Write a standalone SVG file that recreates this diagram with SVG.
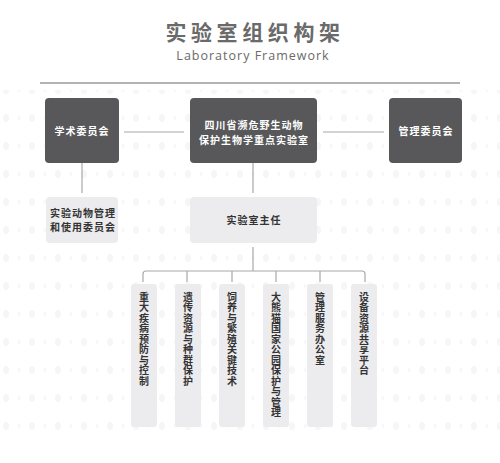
<svg xmlns="http://www.w3.org/2000/svg" width="500" height="463" viewBox="0 0 500 463">
<defs>
<style>
.title{font-family:"Noto Sans CJK SC","Noto Sans",sans-serif;font-weight:700;font-size:21px;fill:#6a6a6a;letter-spacing:4.6px}
.sub{font-family:"Open Sans","Noto Sans",sans-serif;font-size:12.5px;fill:#6a6a6a;letter-spacing:1px}
.dark{fill:#58585a}
.light{fill:#ececee}
.wt{font-family:"Noto Sans CJK SC",sans-serif;font-weight:700;font-size:10px;fill:#ffffff;letter-spacing:1px}
.bt{font-family:"Noto Sans CJK SC",sans-serif;font-weight:700;font-size:10px;fill:#333333;letter-spacing:1px}
.vt{font-family:"Noto Sans CJK SC",sans-serif;font-weight:700;font-size:10px;fill:#333333;writing-mode:vertical-rl;text-orientation:upright;letter-spacing:0.5px}
.ln{stroke:#a8a8a8;stroke-width:1.2;fill:none}
</style>
<pattern id="dots" x="0" y="0" width="26" height="28" patternUnits="userSpaceOnUse">
<ellipse cx="6" cy="6" rx="3" ry="4" fill="#f6f6f6"/>
<ellipse cx="19" cy="6" rx="1.5" ry="2" fill="#f7f7f7"/>
</pattern>
</defs>
<rect width="500" height="463" fill="#ffffff"/>
<rect x="0" y="90" width="500" height="360" fill="url(#dots)"/>

<g id="title">
<text class="title" x="255" y="39.5" text-anchor="middle">实验室组织构架</text>
<text class="sub" x="253" y="59.5" text-anchor="middle">Laboratory Framework</text>
<line x1="40" y1="83" x2="460" y2="83" stroke="#9a9a9a" stroke-width="1.5"/>
</g>

<g id="connectors">
<line class="ln" x1="124" y1="132" x2="184" y2="132"/>
<line class="ln" x1="323" y1="132" x2="384" y2="132"/>
<line class="ln" x1="82" y1="163" x2="82" y2="193"/>
<line class="ln" x1="253" y1="163" x2="253" y2="193"/>
<line class="ln" x1="253" y1="247" x2="253" y2="271"/>
<path class="ln" d="M143 282 V274 Q143 271 146 271 H362 Q365 271 365 274 V282"/>
<line class="ln" x1="187" y1="271" x2="187" y2="282"/>
<line class="ln" x1="232" y1="271" x2="232" y2="282"/>
<line class="ln" x1="276" y1="271" x2="276" y2="282"/>
<line class="ln" x1="320" y1="271" x2="320" y2="282"/>
</g>

<g id="academic">
<rect class="dark" x="45" y="98" width="74" height="65" rx="4"/>
<text class="wt" x="82" y="135" text-anchor="middle">学术委员会</text>
</g>
<g id="lab">
<rect class="dark" x="190" y="98" width="127" height="65" rx="4"/>
<text class="wt" x="254" y="129" text-anchor="middle">四川省濒危野生动物</text>
<text class="wt" x="254" y="144" text-anchor="middle">保护生物学重点实验室</text>
</g>
<g id="management">
<rect class="dark" x="389" y="98" width="73" height="65" rx="4"/>
<text class="wt" x="426" y="135" text-anchor="middle">管理委员会</text>
</g>
<g id="animal">
<rect class="light" x="46" y="197" width="72" height="46" rx="4"/>
<text class="bt" x="83" y="217" text-anchor="middle">实验动物管理</text>
<text class="bt" x="83" y="231" text-anchor="middle">和使用委员会</text>
</g>
<g id="director">
<rect class="light" x="190" y="197" width="127" height="46" rx="4"/>
<text class="bt" x="254" y="224" text-anchor="middle">实验室主任</text>
</g>

<g id="c1">
<rect class="light" x="131" y="284" width="26" height="143" rx="3"/>
<text class="vt" x="144" y="292">重大疾病预防与控制</text>
</g>
<g id="c2">
<rect class="light" x="175" y="284" width="26" height="143" rx="3"/>
<text class="vt" x="188" y="292">遗传资源与种群保护</text>
</g>
<g id="c3">
<rect class="light" x="219" y="284" width="26" height="143" rx="3"/>
<text class="vt" x="232" y="292">饲养与繁殖关键技术</text>
</g>
<g id="c4">
<rect class="light" x="263" y="284" width="26" height="143" rx="3"/>
<text class="vt" x="276" y="292">大熊猫国家公园保护与管理</text>
</g>
<g id="c5">
<rect class="light" x="307" y="284" width="26" height="143" rx="3"/>
<text class="vt" x="320" y="292">管理服务办公室</text>
</g>
<g id="c6">
<rect class="light" x="351" y="284" width="26" height="143" rx="3"/>
<text class="vt" x="364" y="292">设备资源共享平台</text>
</g>
</svg>
